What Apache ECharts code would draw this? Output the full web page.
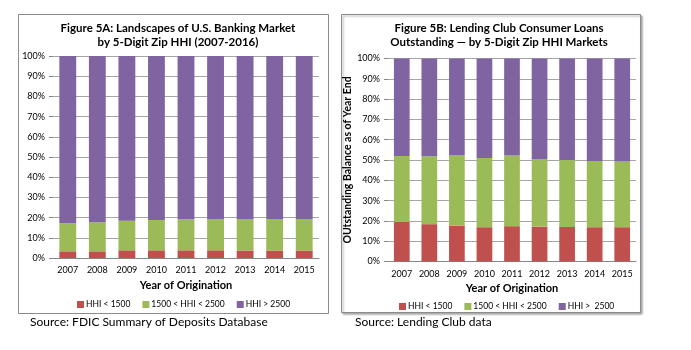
<!DOCTYPE html>
<html>
<head>
<meta charset="utf-8">
<script src="https://cdn.jsdelivr.net/npm/echarts@6/dist/echarts.min.js"></script>
<style>
  html, body { margin: 0; padding: 0; background: #fff; }
  #main { width: 691px; height: 350px; }
</style>
</head>
<body>
<div id="main"></div>
<script>
// categories
var years = ['2007', '2008', '2009', '2010', '2011', '2012', '2013', '2014', '2015'];
var yTicks = [0, 10, 20, 30, 40, 50, 60, 70, 80, 90, 100];

// Figure 5A - banking market shares (%)
var bankLow = [3.3, 3.3, 3.8, 3.8, 3.8, 3.8, 3.7, 3.7, 3.7];
var bankMid = [14.0, 14.4, 14.7, 15.0, 15.2, 15.5, 15.6, 15.6, 15.6];
var bankHigh = [82.7, 82.3, 81.5, 81.2, 81.0, 80.7, 80.7, 80.7, 80.7];

// Figure 5B - Lending Club balances (%)
var lcLow = [19.5, 18.4, 17.6, 16.9, 17.4, 17.2, 17.0, 16.9, 16.9];
var lcMid = [32.5, 33.4, 34.9, 34.1, 34.8, 33.3, 33.0, 32.6, 32.4];
var lcHigh = [48.0, 48.2, 47.5, 49.0, 47.8, 49.5, 50.0, 50.5, 50.7];

var font = 'Lato, "Open Sans", sans-serif';
var cRed = '#c0504d', cGreen = '#9bbb59', cPurple = '#8064a2';

function xAx(idx, gap) {
    return {
        type: 'category', gridIndex: idx, data: years,
        name: 'Year of Origination', nameLocation: 'middle', nameGap: gap,
        nameTextStyle: { fontFamily: font, fontSize: 11, fontWeight: 'bold', color: '#000' },
        axisLine: { lineStyle: { color: '#868686' } },
        axisTick: { show: false },
        axisLabel: { interval: 0, fontFamily: font, fontSize: 9, color: '#000', margin: 8 }
    };
}
function yAx(idx, extra) {
    var a = {
        type: 'value', gridIndex: idx, min: yTicks[0], max: yTicks[yTicks.length - 1], interval: 10,
        axisLine: { show: false },
        axisTick: { show: true, length: 4, lineStyle: { color: '#868686' } },
        splitLine: { lineStyle: { color: '#a6a6a6' } },
        axisLabel: { fontFamily: font, fontSize: 9, color: '#000', margin: 8, formatter: '{value}%' }
    };
    for (var k in extra) a[k] = extra[k];
    return a;
}
function bar(name, data, color, idx) {
    return {
        name: name, type: 'bar', stack: 's' + idx, xAxisIndex: idx, yAxisIndex: idx,
        data: data, barWidth: '57%', itemStyle: { color: color }
    };
}

var chart = echarts.init(document.getElementById('main'));
chart.setOption({
    animation: false,
    backgroundColor: '#fff',
    title: [
        { text: 'Figure 5A: Landscapes of U.S. Banking Market\nby 5-Digit Zip HHI (2007-2016)', left: 173, top: 16, textAlign: 'center',
          textStyle: { fontFamily: font, fontSize: 11.5, fontWeight: 'bold', color: '#000', lineHeight: 14 } },
        { text: 'Figure 5B: Lending Club Consumer Loans\nOutstanding \u2014 by 5-Digit Zip HHI Markets', left: 494, top: 16, textAlign: 'center',
          textStyle: { fontFamily: font, fontSize: 11.5, fontWeight: 'bold', color: '#000', lineHeight: 14 } }
    ],
    legend: [
        { data: ['HHI < 1500', '1500 < HHI < 2500', 'HHI > 2500'], left: 72, top: 295, itemWidth: 7, itemHeight: 7, itemGap: 12,
          icon: 'rect', textStyle: { fontFamily: font, fontSize: 8.5, color: '#000', padding: [0, 0, 0, -3] } },
        { data: ['HHI < 1500', '1500 < HHI < 2500', 'HHI >  2500'], left: 394, top: 297, itemWidth: 7, itemHeight: 7, itemGap: 12,
          icon: 'rect', textStyle: { fontFamily: font, fontSize: 8.5, color: '#000', padding: [0, 0, 0, -3] } }
    ],
    grid: [
        { left: 53, top: 56, width: 266, height: 202 },
        { left: 388, top: 58.5, width: 248, height: 203 }
    ],
    xAxis: [xAx(0, 20), xAx(1, 19)],
    yAxis: [
        yAx(0, {}),
        yAx(1, { name: 'OUtstanding Balance as of Year End', nameLocation: 'middle', nameGap: 30, nameRotate: 90,
                 nameTextStyle: { fontFamily: font, fontSize: 10.5, fontWeight: 'bold', color: '#000' } })
    ],
    series: [
        bar('HHI < 1500', bankLow, cRed, 0),
        bar('1500 < HHI < 2500', bankMid, cGreen, 0),
        bar('HHI > 2500', bankHigh, cPurple, 0),
        bar('HHI < 1500', lcLow, cRed, 1),
        bar('1500 < HHI < 2500', lcMid, cGreen, 1),
        bar('HHI >  2500', lcHigh, cPurple, 1)
    ],
    graphic: [
        { type: 'rect', z: -1, shape: { x: 18.5, y: 14.5, width: 310, height: 299 },
          style: { fill: 'none', stroke: '#8c8c8c', lineWidth: 1 } },
        { type: 'rect', z: -1, shape: { x: 341.5, y: 14.5, width: 299, height: 298 },
          style: { fill: '#fff', stroke: '#8c8c8c', lineWidth: 1, shadowBlur: 2, shadowOffsetX: 1.5, shadowOffsetY: 1.5, shadowColor: 'rgba(0,0,0,0.35)' } },
        { type: 'text', left: 30, top: 316, style: { text: 'Source: FDIC Summary of Deposits Database', font: '12px ' + font, fill: '#000' } },
        { type: 'text', left: 355, top: 316, style: { text: 'Source: Lending Club data', font: '12px ' + font, fill: '#000' } }
    ]
});
</script>
</body>
</html>
